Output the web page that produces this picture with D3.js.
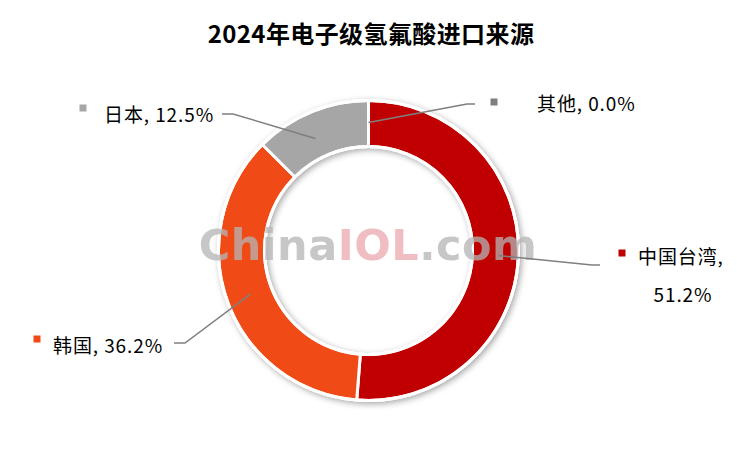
<!DOCTYPE html>
<html><head><meta charset="utf-8">
<script src="https://cdn.jsdelivr.net/npm/d3@7"></script>
<style>body{margin:0;background:#fff}svg{display:block}</style>
</head><body>
<svg id="c" width="737" height="450"></svg>
<script>
const categories = ["中国台湾", "韩国", "日本", "其他"];
const values = [51.2, 36.2, 12.5, 0.0];
const colors = ["#C00000", "#F04B16", "#A6A6A6", "#7F7F7F"];
const labelText = ["中国台湾,", "韩国, 36.2%", "日本, 12.5%", "其他, 0.0%"];

const svg = d3.select("#c");
const font = "'Microsoft YaHei','Noto Sans CJK SC','Noto Sans',sans-serif";
const cx = 368.5, cy = 250.5, rO = 150, rI = 104;

const defs = svg.append("defs");
const f = defs.append("filter").attr("id","sh").attr("x","-20%").attr("y","-20%").attr("width","140%").attr("height","140%");
f.append("feDropShadow").attr("dx",2).attr("dy",2).attr("stdDeviation",3).attr("flood-color","#000").attr("flood-opacity",0.35);

svg.append("text").attr("x", 371).attr("y", 43).attr("text-anchor","middle")
  .attr("font-family", font).attr("font-weight","bold").attr("font-size", 24).attr("fill","#000")
  .attr("letter-spacing", 0.4)
  .text("2024年电子级氢氟酸进口来源");

const pie = d3.pie().sort(null).value(d => d)(values);
const arc = d3.arc().innerRadius(rI).outerRadius(rO);
const g = svg.append("g").attr("transform", `translate(${cx},${cy})`);
g.append("g").attr("filter","url(#sh)").selectAll("path").data(pie).join("path")
  .attr("d", arc).attr("fill", (d,i) => colors[i])
  .attr("stroke","#fff").attr("stroke-width",3).attr("stroke-linejoin","round");
g.append("circle").attr("r", rO).attr("fill","none").attr("stroke","#fff").attr("stroke-width",3);
g.append("circle").attr("r", rI).attr("fill","none").attr("stroke","#fff").attr("stroke-width",3);

// watermark
const wm = svg.append("text").attr("x", 368).attr("y", 260).attr("text-anchor","middle")
  .attr("font-family","'DejaVu Sans',sans-serif").attr("font-weight","bold").attr("font-size", 43)
  .attr("letter-spacing", 0.5).attr("opacity", 0.75);
wm.append("tspan").attr("fill","#b5b5b5").text("China");
wm.append("tspan").attr("fill","#eaa7ae").text("IOL");
wm.append("tspan").attr("fill","#b5b5b5").text(".com");

const pt = (a, r) => [cx + r*Math.sin(a), cy - r*Math.cos(a)];
const mid = d => (d.startAngle + d.endAngle)/2;
const leaders = [
  {i:0, r:130, bend:[592,265], end:[600,265]},
  {i:1, r:126, bend:[185,343], end:[174,343]},
  {i:2, r:124, bend:[233,114], end:[222,114]},
  {i:3, r:128, bend:[467,104], end:[475,104]}
];
leaders.forEach(l => {
  let a = mid(pie[l.i]);
  if (l.i === 2) a = mid(pie[2]) - 0.05;
  const p = pt(a, l.r);
  svg.append("polyline").attr("points", [p, l.bend, l.end].map(q => q.join(",")).join(" "))
    .attr("fill","none").attr("stroke","#7f7f7f").attr("stroke-width",1.5);
});

const labels = [
  {i:0, mx:622, my:253, tx:638, ty:264},
  {i:1, mx:37, my:339, tx:53, ty:353},
  {i:2, mx:83, my:108, tx:104, ty:122},
  {i:3, mx:494, my:102, tx:537, ty:111}
];
labels.forEach(l => {
  svg.append("rect").attr("x", l.mx-3.5).attr("y", l.my-3.5).attr("width",7).attr("height",7).attr("fill", colors[l.i]);
  svg.append("text").attr("x", l.tx).attr("y", l.ty).attr("font-family", font).attr("font-size", 19).attr("fill","#000")
    .attr("letter-spacing", 0.9).text(labelText[l.i]);
});
svg.append("text").attr("x", 683).attr("y", 302).attr("text-anchor","middle").attr("font-family", font).attr("font-size", 19).attr("fill","#000")
  .attr("letter-spacing", 0.9).text(values[0].toFixed(1) + "%");
</script>
</body></html>
